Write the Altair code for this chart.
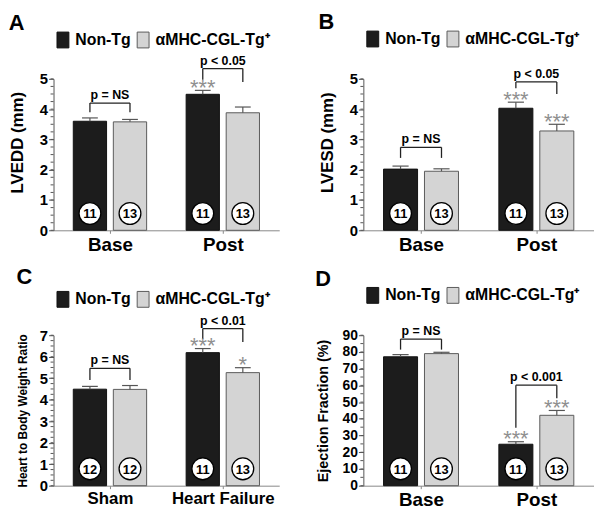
import altair as alt
import pandas as pd

FONT = "Liberation Sans"
SERIES = ["Non-Tg", "αMHC-CGL-Tg⁺"]

# ---------------- Panel A : LVEDD ----------------
A_groups = ["Base", "Post"]
A_nontg = [3.60, 4.49]
A_nontg_err = [0.11, 0.13]
A_tg = [3.58, 3.88]
A_tg_err = [0.08, 0.19]
A_n_nontg = [11, 11]
A_n_tg = [13, 13]
A_stars_nontg = ["", "***"]
A_stars_tg = ["", ""]
A_p = ["p = NS", "p < 0.05"]
A_br_top = [4.20, 5.34]
A_br_left = [3.90, 4.97]
A_br_right = [3.90, 4.90]

# ---------------- Panel B : LVESD ----------------
B_groups = ["Base", "Post"]
B_nontg = [2.02, 4.03]
B_nontg_err = [0.10, 0.20]
B_tg = [1.95, 3.28]
B_tg_err = [0.08, 0.22]
B_n_nontg = [11, 11]
B_n_tg = [13, 13]
B_stars_nontg = ["", "***"]
B_stars_tg = ["", "***"]
B_p = ["p = NS", "p < 0.05"]
B_br_top = [2.74, 4.90]
B_br_left = [2.39, 4.69]
B_br_right = [2.39, 4.50]

# ---------------- Panel C : Heart to body weight ----------------
C_groups = ["Sham", "Heart Failure"]
C_nontg = [4.49, 6.19]
C_nontg_err = [0.13, 0.19]
C_tg = [4.48, 5.26]
C_tg_err = [0.18, 0.23]
C_n_nontg = [12, 11]
C_n_tg = [12, 13]
C_stars_nontg = ["", "***"]
C_stars_tg = ["", "*"]
C_p = ["p = NS", "p < 0.01"]
C_br_top = [5.46, 7.31]
C_br_left = [4.92, 6.85]
C_br_right = [4.92, 6.69]

# ---------------- Panel D : Ejection fraction ----------------
D_groups = ["Base", "Post"]
D_nontg = [77.1, 24.8]
D_nontg_err = [1.3, 1.5]
D_tg = [79.0, 42.1]
D_tg_err = [0.8, 2.9]
D_n_nontg = [11, 11]
D_n_tg = [13, 13]
D_stars_nontg = ["", "***"]
D_stars_tg = ["", "***"]
D_p = ["p = NS", "p < 0.001"]
D_br_top = [87.7, 60.1]
D_br_left = [81.4, 34.6]
D_br_right = [81.4, 52.3]

AXIS_GREY = "#555555"
OFF = 0.1775      # bar centre offset from group centre (x units)
HALF = 0.1475     # half bar width (x units)
CAP = 0.07        # half cap width (x units)


def panel(letter, groups, nontg, nontg_err, tg, tg_err, n_nontg, n_tg,
          st_nontg, st_tg, pvals, br_top, br_left, br_right,
          ymax, ystep, minor_step, ytitle, ytitle_size, W, H,
          legend_y, title_offset, ylabel_size, xlabel_size, title_pad,
          title_y=None):
    rows = []
    for i, g in enumerate(groups):
        for s, (vals, errs, ns, sts) in enumerate(
                [(nontg, nontg_err, n_nontg, st_nontg), (tg, tg_err, n_tg, st_tg)]):
            c = i + 0.5 + (-OFF if s == 0 else OFF)
            rows.append(dict(group=g, series=SERIES[s], c=c, x0=c - HALF, x1=c + HALF,
                             value=vals[i], top=vals[i] + errs[i],
                             cap0=c - CAP, cap1=c + CAP, n=str(ns[i]), stars=sts[i]))
    df = pd.DataFrame(rows)
    br = pd.DataFrame(dict(xl=[i + 0.5 - OFF for i in range(len(groups))],
                           xr=[i + 0.5 + OFF for i in range(len(groups))],
                           xm=[i + 0.5 for i in range(len(groups))],
                           top=br_top, lb=br_left, rb=br_right, p=pvals))
    nminor = int(round(ymax / minor_step))
    minor = pd.DataFrame(dict(v=[k * minor_step for k in range(nminor + 1)]))

    xscale = alt.Scale(domain=[0, 2], nice=False, zero=False)
    yscale = alt.Scale(domain=[0, ymax], nice=False)
    label_expr = f"datum.value < 1 ? '{groups[0]}' : '{groups[1]}'"
    xaxis = alt.Axis(values=[0.5, 1.5], labelExpr=label_expr, title=None, grid=False,
                     labelFontSize=xlabel_size, labelFontWeight="bold", labelColor="black",
                     labelFont=FONT, tickSize=3, tickColor="#888888", domainColor="#888888",
                     labelPadding=2)
    yaxis_kw = dict(values=list(range(0, ymax + 1, ystep)), title=ytitle, grid=False,
                    labelFontSize=ylabel_size, labelFontWeight="bold", labelColor="black",
                    labelFont=FONT, tickSize=5, tickColor=AXIS_GREY, domainColor=AXIS_GREY,
                    labelPadding=1, titleFont=FONT, titleFontSize=ytitle_size,
                    titleFontWeight="bold", titleColor="black", titlePadding=title_pad)
    if title_y is not None:
        yaxis_kw["titleY"] = title_y
    yaxis = alt.Axis(**yaxis_kw)

    def X(f):
        return alt.X(f + ":Q", scale=xscale, axis=xaxis)

    def Y(f):
        return alt.Y(f + ":Q", scale=yscale, axis=yaxis)

    base = alt.Chart(df)
    bars = base.mark_rect(strokeWidth=1).encode(
        x=X("x0"), x2="x1", y=Y("value"), y2=alt.datum(0),
        color=alt.Color("series:N", scale=alt.Scale(domain=SERIES, range=["#1c1c1c", "#d4d4d4"]),
                        legend=alt.Legend(orient="none", legendX=1, legendY=legend_y,
                                          direction="horizontal", title=None,
                                          labelFont=FONT, labelFontSize=16,
                                          labelFontWeight="bold", labelColor="black",
                                          symbolType="M-0.75,-1H0.75V1H-0.75Z",
                                          symbolSize=256, symbolStrokeColor="#555555",
                                          symbolStrokeWidth=1, symbolOpacity=1,
                                          columnPadding=4, labelOffset=4)),
        stroke=alt.Stroke("series:N", scale=alt.Scale(domain=SERIES, range=["#111111", "#5a5a5a"]),
                          legend=None),
    )
    err = base.mark_rule(color=AXIS_GREY, strokeWidth=1.2).encode(
        x=X("c"), y=Y("value"), y2="top")
    cap = base.mark_rule(color=AXIS_GREY, strokeWidth=1.2).encode(
        x=X("cap0"), x2="cap1", y=Y("top"))
    stars = base.mark_text(fontSize=22, color="#8f8f8f", dy=4.5, baseline="alphabetic",
                           font=FONT).encode(x=X("c"), y=Y("top"), text="stars:N")
    circ = base.mark_point(shape="circle", filled=True, fill="white", stroke="black",
                           strokeWidth=1.3, size=484, opacity=1).encode(
        x=X("c"), y=alt.value(H - 17))
    ntext = base.mark_text(fontSize=13, fontWeight="bold", font=FONT, color="black",
                           baseline="middle", dy=1).encode(
        x=X("c"), y=alt.value(H - 17), text="n:N")

    bb = alt.Chart(br)
    bl = bb.mark_rule(color="#222222", strokeWidth=1.3).encode(x=X("xl"), y=Y("lb"), y2="top")
    brr = bb.mark_rule(color="#222222", strokeWidth=1.3).encode(x=X("xr"), y=Y("rb"), y2="top")
    bh = bb.mark_rule(color="#222222", strokeWidth=1.3).encode(x=X("xl"), x2="xr", y=Y("top"))
    bt = bb.mark_text(fontSize=12.5, fontWeight="bold", font=FONT, color="black",
                      baseline="alphabetic", dy=-4).encode(x=X("xm"), y=Y("top"), text="p:N")

    mt = alt.Chart(minor).mark_rule(color=AXIS_GREY, strokeWidth=1).encode(
        y=Y("v"), x=alt.value(0), x2=alt.value(-3))

    return alt.layer(mt, bars, err, cap, stars, circ, ntext, bl, brr, bh, bt).properties(
        width=W, height=H,
        title=alt.TitleParams(letter, anchor="start", fontSize=22, font=FONT,
                              fontWeight="bold", color="black", offset=title_offset),
    )


pA = panel("A", A_groups, A_nontg, A_nontg_err, A_tg, A_tg_err, A_n_nontg, A_n_tg,
           A_stars_nontg, A_stars_tg, A_p, A_br_top, A_br_left, A_br_right,
           5, 1, 0.25, "LVEDD (mm)", 17, 228, 153, -48, -4, 15, 19, 13, title_y=64)
pB = panel("B", B_groups, B_nontg, B_nontg_err, B_tg, B_tg_err, B_n_nontg, B_n_tg,
           B_stars_nontg, B_stars_tg, B_p, B_br_top, B_br_left, B_br_right,
           5, 1, 0.25, "LVESD (mm)", 17, 233, 153, -49, -4, 15, 19, 13, title_y=64)
pC = panel("C", C_groups, C_nontg, C_nontg_err, C_tg, C_tg_err, C_n_nontg, C_n_tg,
           C_stars_nontg, C_stars_tg, C_p, C_br_top, C_br_left, C_br_right,
           7, 1, 0.25, "Heart to Body Weight Ratio", 12, 228, 152, -45, 2, 15, 17, 10)
pD = panel("D", D_groups, D_nontg, D_nontg_err, D_tg, D_tg_err, D_n_nontg, D_n_tg,
           D_stars_nontg, D_stars_tg, D_p, D_br_top, D_br_left, D_br_right,
           90, 10, 5, "Ejection Fraction (%)", 14.5, 233, 152, -49, -4, 14, 19, 12)

chart = alt.concat(pA, pB, pC, pD, columns=2, spacing={"row": 12, "column": 36}).resolve_scale(
    color="independent", stroke="independent", x="independent", y="independent"
).resolve_legend(color="independent", stroke="independent").properties(
    padding={"top": 1, "left": 0, "right": 0, "bottom": 0}, background="white"
).configure_view(stroke=None)

chart.save("out.html", embed_options={"renderer": "svg", "actions": False})
